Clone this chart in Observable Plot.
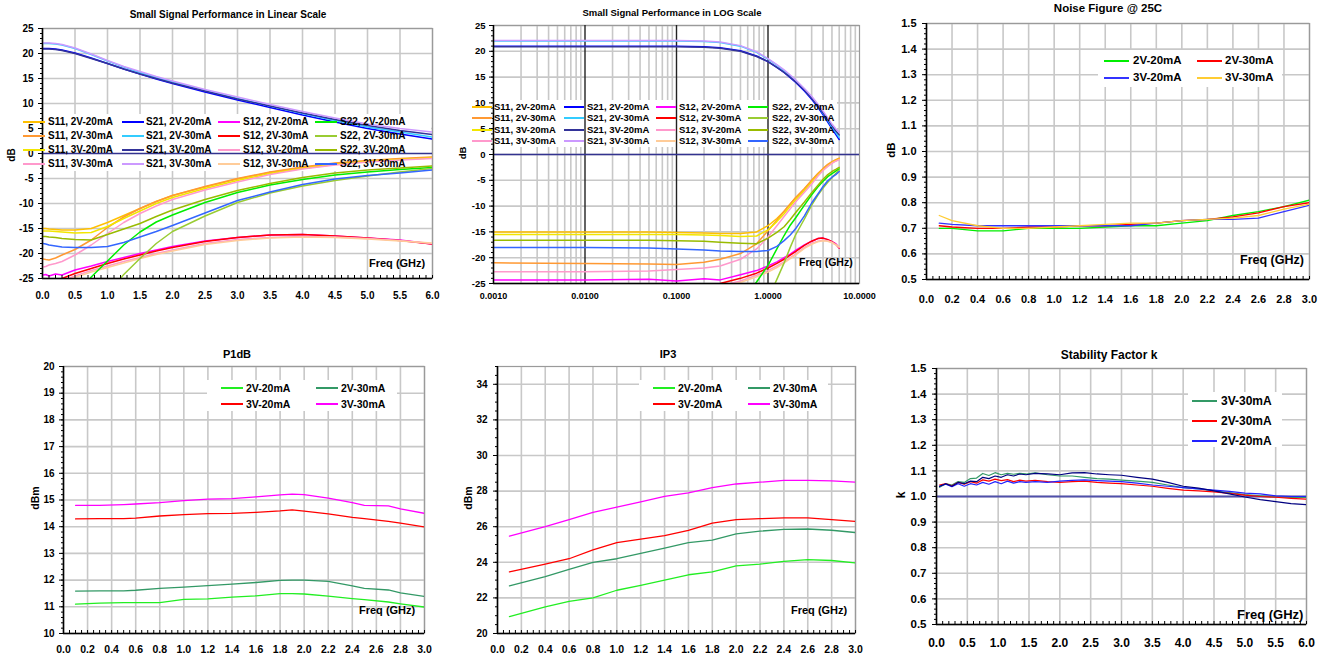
<!DOCTYPE html>
<html><head><meta charset="utf-8">
<script src="https://cdn.jsdelivr.net/npm/d3@7"></script>
<script src="https://cdn.jsdelivr.net/npm/@observablehq/plot@0.6"></script>
<style>
html,body{margin:0;padding:0;background:#fff;}
#root{position:relative;width:1331px;height:656px;overflow:hidden;font-family:"Liberation Sans",Arial,sans-serif;}
.t{position:absolute;font-weight:bold;color:#000;white-space:nowrap;line-height:1;}
</style></head><body><div id="root"></div>
<script>
// ---------------- DATA ----------------
// S-parameters (shared by linear and log charts), frequency in GHz
const spFreq   = [0.001,0.01,0.05,0.1,0.2,0.3,0.5,0.75,1.0,1.25,1.5,1.75,2.0,2.5,3.0,3.5,4.0,4.5,5.0,5.5,6.0];
const s11_2V20 = [-15.0,-15.0,-15.0,-15.1,-15.2,-15.3,-15.3,-15.0,-13.8,-12.4,-11.0,-9.6,-8.4,-6.7,-5.1,-3.8,-2.8,-2.0,-1.5,-1.1,-0.8];
const s11_2V30 = [-21.0,-21.1,-21.2,-21.3,-20.9,-20.3,-19.2,-17.3,-14.8,-12.7,-11.0,-9.6,-8.4,-6.6,-5.0,-3.7,-2.7,-1.9,-1.4,-1.0,-0.7];
const s11_3V20 = [-15.5,-15.5,-15.5,-15.5,-15.6,-15.7,-15.9,-15.8,-14.6,-13.0,-11.5,-10.0,-8.8,-7.0,-5.4,-4.0,-3.0,-2.2,-1.6,-1.2,-0.9];
const s11_3V30 = [-22.7,-22.7,-22.6,-22.3,-22.0,-21.6,-20.3,-18.3,-16.0,-13.8,-12.0,-10.5,-9.2,-7.3,-5.7,-4.2,-3.1,-2.3,-1.7,-1.3,-1.0];
const s21_2V20 = [21.0,21.0,21.0,21.0,20.9,20.7,20.1,19.1,18.0,16.9,15.9,14.9,14.0,12.3,10.7,9.2,7.7,6.3,5.0,3.9,2.9];
const s21_2V30 = [22.0,22.0,22.0,22.0,21.9,21.7,21.0,19.8,18.5,17.3,16.2,15.2,14.3,12.6,11.0,9.5,8.0,6.6,5.3,4.3,3.3];
const s21_3V20 = [20.9,20.9,20.9,20.9,20.8,20.6,20.0,19.0,18.0,16.9,15.9,15.0,14.1,12.5,10.9,9.5,8.1,6.8,5.6,4.6,3.8];
const s21_3V30 = [22.1,22.1,22.1,22.1,22.0,21.8,21.1,19.9,18.6,17.4,16.4,15.4,14.5,12.8,11.3,9.8,8.4,7.1,5.9,5.0,4.3];
const s12_2V20 = [-24.3,-24.3,-24.2,-24.5,-24.1,-24.3,-23.3,-22.5,-21.6,-20.8,-20.0,-19.3,-18.6,-17.5,-16.8,-16.3,-16.2,-16.5,-16.9,-17.3,-18.1];
const s12_2V30 = [-25.3,-25.3,-25.2,-25.3,-25.2,-25.0,-24.0,-23.0,-22.0,-21.1,-20.3,-19.5,-18.8,-17.6,-16.8,-16.3,-16.2,-16.5,-16.9,-17.4,-18.1];
const s12_3V20 = [-25.8,-25.8,-25.8,-25.8,-25.7,-25.5,-24.5,-23.4,-22.5,-21.6,-20.8,-20.0,-19.3,-18.0,-17.2,-16.8,-16.6,-16.7,-17.0,-17.4,-18.0];
const s12_3V30 = [-26.0,-26.0,-26.0,-26.0,-25.9,-25.7,-24.8,-23.7,-22.8,-21.9,-21.0,-20.2,-19.5,-18.2,-17.4,-16.9,-16.7,-16.8,-17.1,-17.5,-17.9];
const s22_2V20 = [null,null,null,null,null,null,-29.0,-24.7,-21.5,-18.3,-15.7,-13.7,-12.3,-9.8,-7.8,-6.3,-5.2,-4.3,-3.7,-3.2,-2.8];
const s22_2V30 = [null,null,null,null,null,null,null,-33.0,-28.0,-24.2,-21.0,-18.0,-15.6,-12.5,-9.8,-7.9,-6.5,-5.4,-4.5,-3.7,-3.0];
const s22_3V20 = [-16.6,-16.6,-16.6,-16.7,-16.8,-17.0,-17.2,-17.3,-16.2,-15.1,-14.0,-12.6,-11.3,-9.2,-7.4,-6.0,-4.8,-3.9,-3.3,-2.9,-2.5];
const s22_3V30 = [-18.0,-18.0,-18.1,-18.3,-18.5,-18.7,-18.8,-18.8,-18.6,-17.8,-16.7,-15.6,-14.4,-11.9,-9.4,-7.7,-6.2,-5.1,-4.4,-3.9,-3.3];
const spNames  = ["S11, 2V-20mA","S11, 2V-30mA","S11, 3V-20mA","S11, 3V-30mA",
                  "S21, 2V-20mA","S21, 2V-30mA","S21, 3V-20mA","S21, 3V-30mA",
                  "S12, 2V-20mA","S12, 2V-30mA","S12, 3V-20mA","S12, 3V-30mA",
                  "S22, 2V-20mA","S22, 2V-30mA","S22, 3V-20mA","S22, 3V-30mA"];
const spValues = [s11_2V20,s11_2V30,s11_3V20,s11_3V30,s21_2V20,s21_2V30,s21_3V20,s21_3V30,
                  s12_2V20,s12_2V30,s12_3V20,s12_3V30,s22_2V20,s22_2V30,s22_3V20,s22_3V30];

// Noise figure
const nfFreq   = [0.1,0.2,0.4,0.6,0.8,1.0,1.2,1.4,1.6,1.8,2.0,2.2,2.4,2.6,2.8,3.0];
const nf_2V20  = [0.70,0.70,0.69,0.69,0.70,0.70,0.70,0.705,0.71,0.71,0.72,0.73,0.75,0.765,0.785,0.81];
const nf_2V30  = [0.71,0.705,0.70,0.70,0.705,0.705,0.71,0.71,0.715,0.72,0.73,0.735,0.745,0.76,0.785,0.80];
const nf_3V20  = [0.72,0.715,0.71,0.71,0.71,0.71,0.71,0.71,0.71,0.72,0.73,0.735,0.735,0.74,0.765,0.79];
const nf_3V30  = [0.75,0.73,0.71,0.70,0.70,0.705,0.71,0.715,0.72,0.72,0.73,0.735,0.74,0.75,0.775,0.795];
const nfNames  = ["2V-20mA","2V-30mA","3V-20mA","3V-30mA"];

// P1dB
const p1Freq   = [0.1,0.3,0.5,0.6,0.8,1.0,1.2,1.4,1.6,1.8,1.9,2.0,2.2,2.4,2.5,2.7,2.8,3.0];
const p1_2V20  = [11.10,11.14,11.16,11.16,11.16,11.28,11.30,11.36,11.41,11.49,11.49,11.48,11.40,11.31,11.27,11.18,11.11,10.99];
const p1_2V30  = [11.59,11.60,11.60,11.62,11.69,11.74,11.79,11.85,11.91,11.99,12.00,12.00,11.95,11.78,11.69,11.63,11.52,11.39];
const p1_3V20  = [14.29,14.30,14.30,14.32,14.40,14.45,14.49,14.50,14.54,14.59,14.63,14.58,14.48,14.35,14.30,14.20,14.13,13.99];
const p1_3V30  = [14.80,14.80,14.83,14.85,14.90,14.98,15.03,15.05,15.12,15.19,15.22,15.20,15.07,14.90,14.80,14.78,14.67,14.50];
const p1Names  = ["2V-20mA","2V-30mA","3V-20mA","3V-30mA"];

// IP3
const ipFreq   = [0.1,0.4,0.6,0.8,1.0,1.2,1.4,1.6,1.8,2.0,2.2,2.4,2.6,2.8,3.0];
const ip_2V20  = [20.95,21.5,21.8,22.0,22.43,22.7,23.0,23.3,23.46,23.8,23.9,24.05,24.15,24.1,23.97];
const ip_2V30  = [22.68,23.2,23.6,24.0,24.2,24.5,24.8,25.1,25.25,25.6,25.75,25.85,25.87,25.8,25.67];
const ip_3V20  = [23.46,23.9,24.2,24.7,25.1,25.3,25.5,25.8,26.2,26.4,26.45,26.5,26.5,26.4,26.3];
const ip_3V30  = [25.47,26.0,26.4,26.8,27.1,27.4,27.7,27.9,28.2,28.4,28.5,28.6,28.6,28.57,28.5];
const ipNames  = ["2V-20mA","2V-30mA","3V-20mA","3V-30mA"];

// Stability factor k
const kFreq    = [0.05,0.15,0.25,0.35,0.45,0.55,0.65,0.75,0.85,0.95,1.05,1.15,1.25,1.35,1.45,1.6,1.8,2.0,2.2,2.4,2.6,2.8,3.0,3.25,3.5,3.75,4.0,4.25,4.5,4.75,5.0,5.25,5.5,5.75,6.0];
const k_3V30   = [1.036,1.05,1.045,1.058,1.055,1.07,1.072,1.09,1.082,1.093,1.085,1.09,1.087,1.09,1.088,1.092,1.085,1.08,1.08,1.075,1.07,1.068,1.064,1.06,1.055,1.045,1.035,1.03,1.022,1.015,1.007,1.003,0.998,0.996,0.997];
const k_3V20   = [1.04,1.05,1.04,1.055,1.05,1.06,1.058,1.075,1.07,1.08,1.075,1.085,1.08,1.088,1.085,1.09,1.088,1.085,1.092,1.093,1.088,1.085,1.083,1.075,1.068,1.055,1.04,1.033,1.022,1.01,0.998,0.988,0.98,0.972,0.968];
const k_2V30   = [1.045,1.05,1.042,1.055,1.048,1.058,1.052,1.065,1.06,1.068,1.062,1.066,1.058,1.064,1.06,1.063,1.058,1.055,1.058,1.06,1.055,1.052,1.05,1.045,1.04,1.032,1.025,1.022,1.018,1.012,1.005,1.0,0.997,0.993,0.99];
const k_2V20   = [1.04,1.048,1.038,1.05,1.04,1.05,1.045,1.055,1.048,1.058,1.05,1.06,1.052,1.058,1.055,1.058,1.055,1.06,1.063,1.065,1.062,1.06,1.058,1.052,1.045,1.04,1.035,1.03,1.025,1.02,1.013,1.01,1.003,1.0,1.0];
const kNames   = ["3V-30mA","2V-30mA","2V-20mA","3V-20mA"];

// Tick labels
const linTicks6  = [0,0.5,1,1.5,2,2.5,3,3.5,4,4.5,5,5.5,6];
const linTicks3  = [0,0.2,0.4,0.6,0.8,1,1.2,1.4,1.6,1.8,2,2.2,2.4,2.6,2.8,3];
const logTicks   = [0.001,0.01,0.1,1,10];
const dbTicks    = [-25,-20,-15,-10,-5,0,5,10,15,20,25];
const nfTicks    = [0.5,0.6,0.7,0.8,0.9,1.0,1.1,1.2,1.3,1.4,1.5];
const p1Ticks    = [10,11,12,13,14,15,16,17,18,19,20];
const ipTicks    = [20,22,24,26,28,30,32,34];
const kTicks     = [0.5,0.6,0.7,0.8,0.9,1.0,1.1,1.2,1.3,1.4,1.5];

// ---------------- STYLES ----------------
const spColors = ["#ffc000","#ff9933","#f2e600","#ff99cc",
                  "#0000ff","#33ccff","#333399","#cc99ff",
                  "#ff00ff","#ff0000","#ff99cc","#ffcc99",
                  "#00ee00","#99cc33","#99bb00","#3366ff"];
const nfColors = ["#00ee00","#ff0000","#3333ff","#ffcc33"];
const p1Colors = ["#22ee22","#339966","#ff0000","#ff00ff"];
const kColors  = ["#339966","#ff0000","#2222ff","#000080"];

const root = document.getElementById("root");
const FONT = '"Liberation Sans", Arial, sans-serif';
function place(el, x, y, z) {
  el.style.position = "absolute"; el.style.left = x + "px"; el.style.top = y + "px"; el.style.zIndex = z;
  root.appendChild(el);
}
function txt(text, x, y, size, mode) {
  const d = document.createElement("div");
  d.className = "t"; d.textContent = text; d.style.fontSize = size + "px";
  d.style.left = x + "px"; d.style.top = y + "px"; d.style.zIndex = 5;
  d.style.transform = mode === "rot" ? "translate(-50%,-50%) rotate(-90deg)"
                    : mode === "start" ? "translate(0,-50%)" : "translate(-50%,-50%)";
  root.appendChild(d);
}
function legend(names, colors, L) {
  const bg = document.createElement("div");
  bg.style.background = "#fff"; bg.style.width = (L.bg[2]-L.bg[0]) + "px"; bg.style.height = (L.bg[3]-L.bg[1]) + "px";
  place(bg, L.bg[0], L.bg[1], 2);
  const nR = L.rows.length, nC = L.sw.length;
  names.forEach((n, i) => {
    if (i >= nR * nC) return;
    const c = L.order === "col" ? Math.floor(i / nR) : i % nC;
    const r = L.order === "col" ? i % nR : Math.floor(i / nC);
    const s = document.createElement("div");
    s.style.width = L.len + "px"; s.style.height = "2px"; s.style.background = colors[i];
    place(s, L.sw[c], L.rows[r] - 1, 4);
    txt(n, L.tx[c], L.rows[r], L.size, "start");
  });
}
function chart(cfg) {
  const base = {
    width: cfg.w, height: cfg.h,
    marginTop: cfg.m[0], marginRight: cfg.m[1], marginBottom: cfg.m[2], marginLeft: cfg.m[3],
    style: {background: "transparent", overflow: "visible", fontFamily: FONT, fontWeight: "bold", color: "#000"}
  };
  const xs = {type: cfg.xType || "linear", domain: cfg.xDomain, axis: null};
  const ys = {type: "linear", domain: cfg.yDomain, axis: null};
  const grid = Plot.plot({...base, x: xs, y: ys, marks: [
    Plot.gridX(cfg.xGrid, {stroke: "#c8c8c8", strokeOpacity: 1, strokeWidth: 1.6}),
    Plot.gridY(cfg.yGrid, {stroke: "#c8c8c8", strokeOpacity: 1, strokeWidth: 1.6})
  ]});
  place(grid, cfg.x, cfg.y, 1);
  const lines = cfg.values.map((vals, i) => Plot.line(
    vals.map((v, j) => ({f: cfg.freq[j], v})),
    {x: "f", y: "v", stroke: cfg.colors[i], strokeWidth: cfg.lw || 1.3, clip: true}));
  const main = Plot.plot({...base, x: xs, y: ys, marks: [
    Plot.frame({stroke: "#9a9a9a", strokeWidth: 1.2}),
    ...(cfg.under || []),
    ...lines,
    ...(cfg.over || []),
    Plot.ruleX([cfg.xDomain[0]], {stroke: "#000", strokeWidth: 1.5}),
    Plot.ruleY([cfg.yDomain[0]], {stroke: "#000", strokeWidth: 1.5}),
    Plot.axisY(cfg.yMinor, {tickSize: 2, tickFormat: () => "", label: null}),
    Plot.axisY(cfg.yTicks, {tickSize: 4, tickPadding: cfg.yPad, fontSize: cfg.yFont, tickFormat: cfg.yFmt, label: null}),
    Plot.axisX(cfg.xMinor, {tickSize: -3, tickFormat: () => "", label: null}),
    Plot.axisX(cfg.xTicks, {tickSize: 0, tickPadding: cfg.xPad, fontSize: cfg.xFont, tickFormat: cfg.xFmt, label: null})
  ]});
  place(main, cfg.x, cfg.y, 3);
}
const f1 = d => d.toFixed(1), f4 = d => d.toFixed(4), fi = d => String(d);
const range = (a, b, s) => d3.range(Math.round((b - a) / s) + 1).map(i => +(a + i * s).toFixed(4));
const logMinor = [-3,-2,-1,0].flatMap(k => [2,3,4,5,6,7,8,9].map(m => +(m * Math.pow(10, k)).toPrecision(3)));
const logMajor = [0.01, 0.1, 1];

// ---------------- PANEL 1: linear S-params ----------------
chart({x: 0, y: 0, w: 440, h: 310, m: [28, 8, 32, 42],
  xDomain: [0, 6], yDomain: [-25, 25], xGrid: linTicks6, yGrid: dbTicks,
  xTicks: linTicks6, xFmt: f1, xPad: 13, xFont: 10, xMinor: range(0, 6, 0.1),
  yTicks: dbTicks, yFmt: fi, yPad: 5, yFont: 10, yMinor: range(-25, 25, 1),
  freq: spFreq, values: spValues, colors: spColors, lw: 1.5,
  under: [Plot.ruleY([0], {stroke: "#33338f", strokeWidth: 1.6})]});
legend(spNames, spColors, {bg: [44, 114, 431, 171], sw: [23, 122, 218, 315], tx: [48, 146, 243, 340],
  rows: [122, 136, 150, 164], len: 22, size: 10, order: "col"});
txt("Small Signal Performance in Linear Scale", 228, 15, 10);
txt("dB", 12, 155, 10, "rot");
txt("Freq (GHz)", 369, 263, 11, "start");

// ---------------- PANEL 2: log S-params ----------------
chart({x: 440, y: 0, w: 440, h: 310, m: [25, 21, 27, 53],
  xType: "log", xDomain: [0.001, 10], yDomain: [-25, 25], xGrid: logMinor, yGrid: dbTicks,
  xTicks: logTicks, xFmt: f4, xPad: 9, xFont: 9, xMinor: [],
  yTicks: dbTicks, yFmt: fi, yPad: 4, yFont: 9.5, yMinor: range(-25, 25, 1),
  freq: spFreq, values: spValues, colors: spColors, lw: 1.5,
  under: [Plot.ruleX(logMajor, {stroke: "#222", strokeWidth: 1.4}),
          Plot.ruleY([0], {stroke: "#33338f", strokeWidth: 1.6})]});
legend(spNames, spColors, {bg: [493, 100, 837, 147], sw: [472, 564, 656, 748], tx: [494, 587, 679, 772],
  rows: [107, 118, 130, 141], len: 20, size: 9.5, order: "col"});
txt("Small Signal Performance in LOG Scale", 672, 13, 9.5);
txt("dB", 463, 153, 9.5, "rot");
txt("Freq (GHz)", 799, 262, 10.5, "start");

// ---------------- PANEL 3: Noise figure ----------------
chart({x: 880, y: 0, w: 451, h: 310, m: [23, 22, 31, 46],
  xDomain: [0, 3], yDomain: [0.5, 1.5], xGrid: linTicks3, yGrid: nfTicks,
  xTicks: linTicks3, xFmt: f1, xPad: 16, xFont: 11, xMinor: range(0, 3, 0.05),
  yTicks: nfTicks, yFmt: f1, yPad: 6, yFont: 11, yMinor: range(0.5, 1.5, 0.02),
  freq: nfFreq, values: [nf_2V20, nf_2V30, nf_3V20, nf_3V30], colors: nfColors, lw: 1.3});
legend(nfNames, nfColors, {bg: [1098, 50, 1282, 87], sw: [1104, 1197], tx: [1133, 1225],
  rows: [61, 78], len: 25, size: 11.5, order: "row"});
txt("Noise Figure @ 25C", 1108, 9, 11.5);
txt("dB", 892, 150, 11.5, "rot");
txt("Freq (GHz)", 1240, 260, 12.5, "start");

// ---------------- PANEL 4: P1dB ----------------
chart({x: 0, y: 330, w: 440, h: 326, m: [36, 16, 23, 63],
  xDomain: [0, 3], yDomain: [10, 20], xGrid: linTicks3, yGrid: p1Ticks,
  xTicks: linTicks3, xFmt: f1, xPad: 12, xFont: 10.5, xMinor: range(0, 3, 0.05),
  yTicks: p1Ticks, yFmt: fi, yPad: 5, yFont: 10, yMinor: range(10, 20, 0.2),
  freq: p1Freq, values: [p1_2V20, p1_2V30, p1_3V20, p1_3V30], colors: p1Colors, lw: 1.3});
legend(p1Names, p1Colors, {bg: [207, 380, 397, 411], sw: [221, 316], tx: [246, 341],
  rows: [388, 404], len: 22, size: 10.5, order: "row"});
txt("P1dB", 237, 354, 11);
txt("dBm", 35, 498, 10.5, "rot");
txt("Freq (GHz)", 359, 610, 11, "start");

// ---------------- PANEL 5: IP3 ----------------
chart({x: 440, y: 330, w: 440, h: 326, m: [36, 25, 23, 57],
  xDomain: [0, 3], yDomain: [20, 35], xGrid: linTicks3, yGrid: ipTicks,
  xTicks: linTicks3, xFmt: f1, xPad: 12, xFont: 10.5, xMinor: range(0, 3, 0.05),
  yTicks: ipTicks, yFmt: fi, yPad: 6, yFont: 10, yMinor: range(20, 35, 0.5),
  freq: ipFreq, values: [ip_2V20, ip_2V30, ip_3V20, ip_3V30], colors: p1Colors, lw: 1.3});
legend(ipNames, p1Colors, {bg: [639, 380, 828, 411], sw: [653, 748], tx: [678, 773],
  rows: [388, 404], len: 22, size: 10.5, order: "row"});
txt("IP3", 668, 354, 11);
txt("dBm", 468, 498, 10.5, "rot");
txt("Freq (GHz)", 791, 610, 11, "start");

// ---------------- PANEL 6: Stability factor ----------------
chart({x: 880, y: 330, w: 451, h: 326, m: [38, 25, 32, 56],
  xDomain: [0, 6], yDomain: [0.5, 1.5], xGrid: linTicks6, yGrid: kTicks,
  xTicks: linTicks6, xFmt: f1, xPad: 14, xFont: 12, xMinor: range(0, 6, 0.1),
  yTicks: kTicks, yFmt: f1, yPad: 6, yFont: 11.5, yMinor: range(0.5, 1.5, 0.02),
  freq: kFreq, values: [k_3V30, k_2V30, k_2V20, k_3V20], colors: kColors, lw: 1.2,
  under: [Plot.ruleY([1.0], {stroke: "#5050aa", strokeWidth: 2})]});
legend(kNames.slice(0, 3), kColors, {bg: [1188, 392, 1282, 447], sw: [1192], tx: [1221],
  rows: [401, 421, 441], len: 25, size: 12, order: "row"});
txt("Stability Factor k", 1109, 355, 12);
txt("k", 901, 495, 12, "rot");
txt("Freq (GHz)", 1237, 614, 13, "start");
</script></body></html>
